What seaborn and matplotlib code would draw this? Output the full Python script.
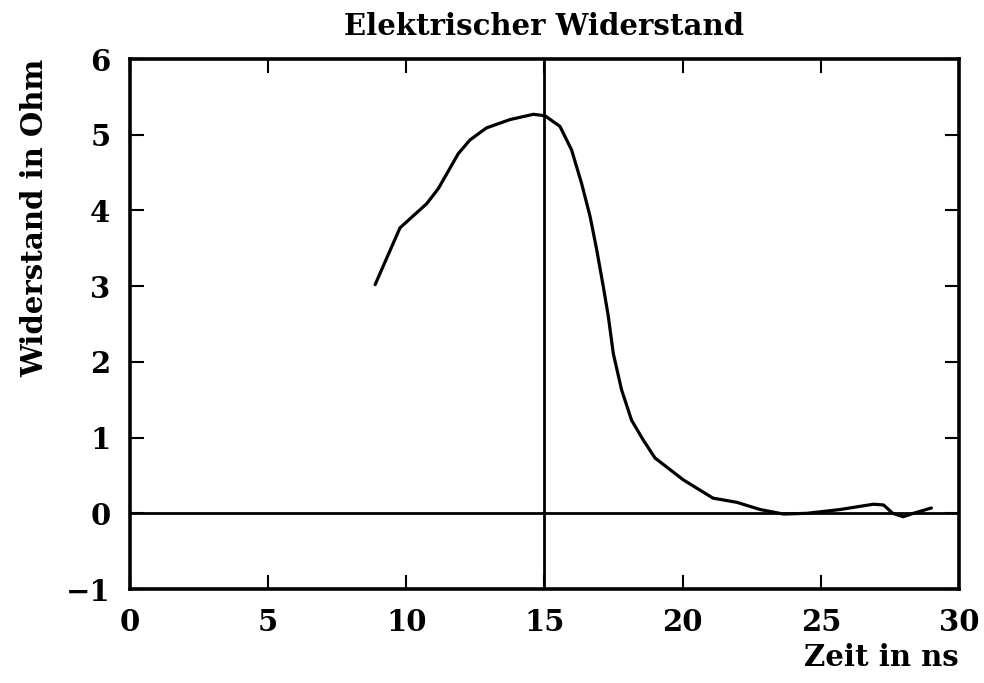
import matplotlib
matplotlib.use("Agg")
import matplotlib.pyplot as plt
import seaborn as sns
import pandas as pd

# Resistance trace (time in ns, resistance in Ohm)
zeit_ns = [8.87, 9.77, 10.74, 11.16, 11.88, 12.3, 12.9, 13.75, 14.6, 15.02,
           15.56, 15.98, 16.34, 16.65, 16.89, 17.13, 17.31, 17.49, 17.79, 18.15,
           18.57, 19.0, 20.03, 21.1, 21.96, 22.8, 23.65, 24.5, 25.7, 26.9,
           27.27, 27.6, 27.98, 28.35, 29.0]
widerstand_ohm = [3.02, 3.77, 4.09, 4.29, 4.75, 4.93, 5.09, 5.20, 5.27, 5.25,
                  5.11, 4.80, 4.36, 3.92, 3.48, 2.99, 2.60, 2.11, 1.63, 1.23,
                  0.97, 0.73, 0.44, 0.20, 0.145, 0.05, -0.01, 0.0, 0.05, 0.12,
                  0.11, 0.0, -0.045, 0.0, 0.07]

x_ticks = [0, 5, 10, 15, 20, 25, 30]
y_ticks = [-1, 0, 1, 2, 3, 4, 5, 6]

sns.set_style("ticks")
plt.rcParams["font.family"] = ["DejaVu Serif"]
plt.rcParams["text.color"] = "black"
plt.rcParams["axes.labelcolor"] = "black"

df = pd.DataFrame({"Zeit": zeit_ns, "Widerstand": widerstand_ohm})

fig = plt.figure(figsize=(9.84, 6.83), dpi=100)
ax = fig.add_axes([0.1321, 0.1376, 0.8425, 0.776])

sns.lineplot(data=df, x="Zeit", y="Widerstand", sort=False, color="black",
             linewidth=2.3, ax=ax)
ax.axvline(15, color="black", linewidth=2.0)
ax.axhline(0, color="black", linewidth=2.0)

ax.set_xlim(0, 30)
ax.set_ylim(-1, 6)
ax.set_xticks(x_ticks)
ax.set_yticks(y_ticks)
ax.set_yticklabels(["\u22121" if v < 0 else str(v) for v in y_ticks])

for side in ax.spines.values():
    side.set_linewidth(2.6)
    side.set_color("black")
ax.tick_params(direction="in", length=10, width=1.5, top=True, right=True,
               labelsize=21, colors="black", pad=14)
for lbl in ax.get_xticklabels() + ax.get_yticklabels():
    lbl.set_fontweight("bold")

ax.set_title("Elektrischer Widerstand", fontsize=21, fontweight="bold",
             color="black", pad=17)
ax.set_xlabel("Zeit in ns", fontsize=21, fontweight="bold", loc="right",
              labelpad=4)
ax.set_ylabel("Widerstand in Ohm", fontsize=21, fontweight="bold", loc="top",
              labelpad=12)

fig.savefig("out.png", dpi=100)
